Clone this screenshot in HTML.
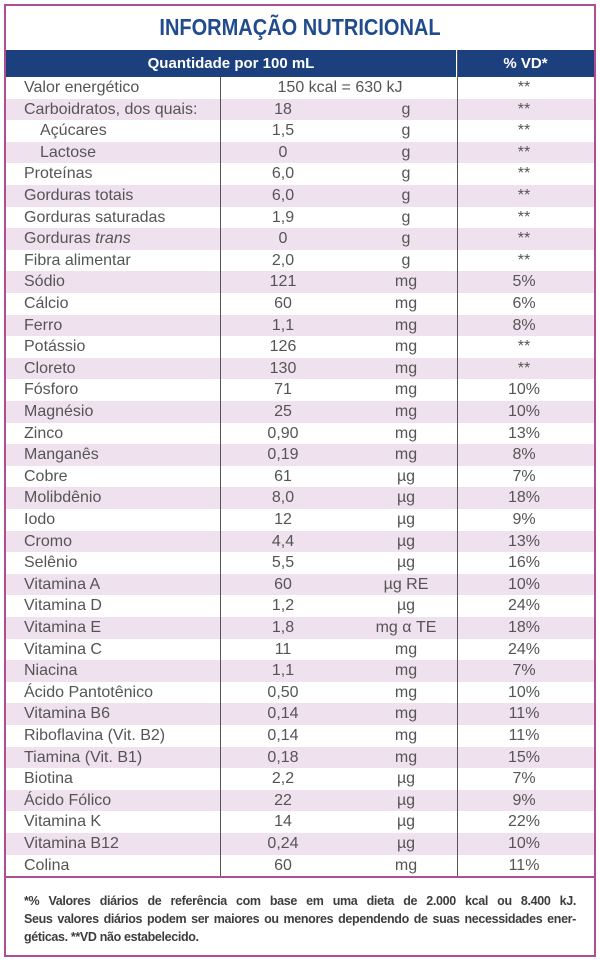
<!DOCTYPE html>
<html><head><meta charset="utf-8"><style>
html,body{margin:0;padding:0;background:#fff}
body{width:600px;height:966px;position:relative;overflow:hidden;font-family:"Liberation Sans Narrow","Liberation Sans",sans-serif;color:#555}
#frame{position:absolute;left:4px;top:4px;width:588px;height:949px;border:2px solid #b04d93}
#title{position:absolute;left:0;top:14px;width:600px;text-align:center;font-weight:bold;font-size:23px;color:#214b8d;transform:scaleX(0.87);transform-origin:300px 0}
#hdr{position:absolute;left:6px;top:50px;width:588px;height:27px;background:#1c3f7e;color:#fff;font-weight:bold;font-size:15px}
#hdr div{position:absolute;top:5px;text-align:center}
.row{position:absolute;left:6px;width:588px;height:21.6px;font-size:16px}
.row span{position:absolute;top:2px;white-space:nowrap}
.pink{background:#efe2ee}
.vline{position:absolute;width:1px;background:#555}
#foot{position:absolute;left:24px;top:892px;width:552px;font-weight:bold;font-size:12.5px;line-height:18px;color:#3d3d3d}
#foot div{white-space:nowrap;letter-spacing:-0.35px}
#foot .j{text-align:justify;text-align-last:justify;white-space:normal}
</style></head><body>
<div id="frame"></div>
<div id="title">INFORMAÇÃO NUTRICIONAL</div>
<div id="hdr">
<div style="left:0;width:450px">Quantidade por 100 mL</div>
<div style="left:451px;width:137px">% VD*</div>
<div style="left:450px;top:0;width:1px;height:27px;background:#fff"></div>
</div>
<div id="rows"></div>
<div class="vline" style="left:220px;top:77px;height:799px"></div>
<div class="vline" style="left:457px;top:50px;height:826px"></div>
<div style="position:absolute;left:6px;top:876px;width:588px;height:2px;background:#b04d93"></div>
<div id="foot">
<div class="j">*% Valores diários de referência com base em uma dieta de 2.000 kcal ou 8.400 kJ.</div>
<div class="j">Seus valores diários podem ser maiores ou menores dependendo de suas necessidades ener-</div>
<div>géticas. **VD não estabelecido.</div>
</div>
<script>
const names=["Valor energético","Carboidratos, dos quais:","Açúcares","Lactose","Proteínas","Gorduras totais","Gorduras saturadas","Gorduras <i>trans</i>","Fibra alimentar","Sódio","Cálcio","Ferro","Potássio","Cloreto","Fósforo","Magnésio","Zinco","Manganês","Cobre","Molibdênio","Iodo","Cromo","Selênio","Vitamina A","Vitamina D","Vitamina E","Vitamina C","Niacina","Ácido Pantotênico","Vitamina B6","Riboflavina (Vit. B2)","Tiamina (Vit. B1)","Biotina","Ácido Fólico","Vitamina K","Vitamina B12","Colina"];
const amounts=["150 kcal = 630 kJ","18","1,5","0","6,0","6,0","1,9","0","2,0","121","60","1,1","126","130","71","25","0,90","0,19","61","8,0","12","4,4","5,5","60","1,2","1,8","11","1,1","0,50","0,14","0,14","0,18","2,2","22","14","0,24","60"];
const units=["","g","g","g","g","g","g","g","g","mg","mg","mg","mg","mg","mg","mg","mg","mg","µg","µg","µg","µg","µg","µg RE","µg","mg α TE","mg","mg","mg","mg","mg","mg","µg","µg","µg","µg","mg"];
const vd=["**","**","**","**","**","**","**","**","**","5%","6%","8%","**","**","10%","10%","13%","8%","7%","18%","9%","13%","16%","10%","24%","18%","24%","7%","10%","11%","11%","15%","7%","9%","22%","10%","11%"];
const indent=[2,3];
const rowsEl=document.getElementById('rows');
const top0=77,rh=21.6;
names.forEach((n,i)=>{
 const r=document.createElement('div');
 
 
 r.className='row'+(i%2?' pink':'');
 r.style.top=(top0+i*rh)+'px';
 const a=document.createElement('span');
 
 
 a.style.left=(indent.includes(i)?34:18)+'px';a.innerHTML=n;r.appendChild(a);
 const b=document.createElement('span');
 
 
 if(i===0){b.style.left='214px';b.style.width='240px';b.style.textAlign='center';}
 else{b.style.left='217px';b.style.width='120px';b.style.textAlign='center';}
 b.textContent=amounts[i];r.appendChild(b);
 const c=document.createElement('span');
 
 
 c.style.left='340px';c.style.width='120px';c.style.textAlign='center';
 c.textContent=units[i];r.appendChild(c);
 const d=document.createElement('span');
 
 
 d.style.left='452px';d.style.width='132px';d.style.textAlign='center';
 d.textContent=vd[i];r.appendChild(d);
 rowsEl.appendChild(r);
});
</script>
</body></html>
